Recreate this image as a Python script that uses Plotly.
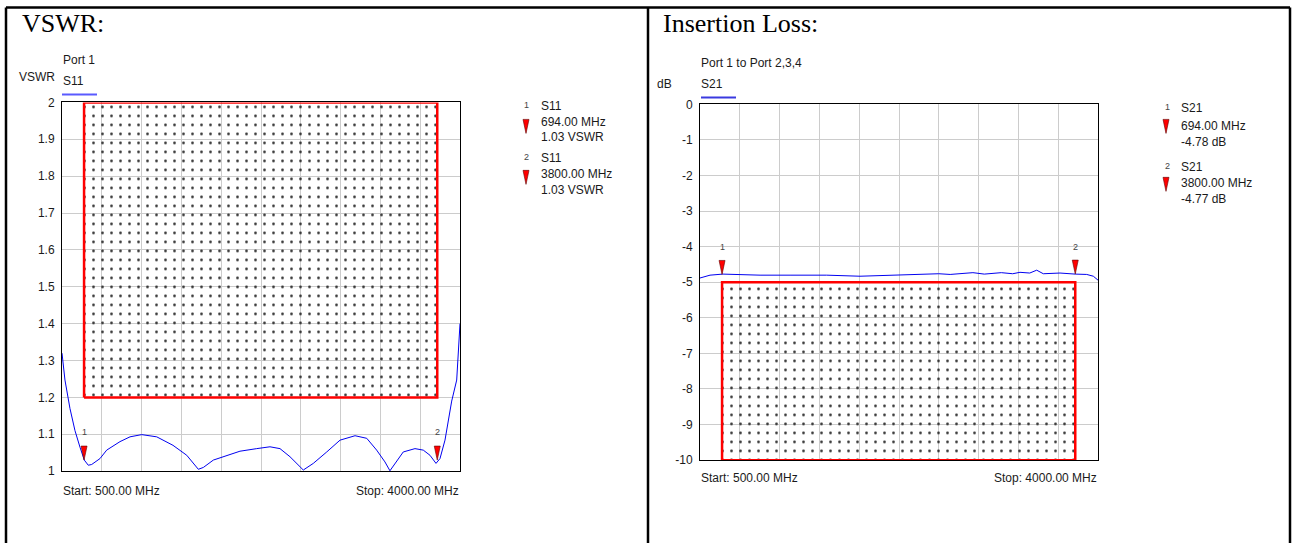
import plotly.graph_objects as go

W, H = 1292, 543

# ---------------- data ----------------
freq_start, freq_stop = 500, 4000
freq_grid = [500, 850, 1200, 1550, 1900, 2250, 2600, 2950, 3300, 3650, 4000]

vswr_freq = [500, 526, 570, 614, 658, 696, 731, 761, 834, 893, 1010, 1098, 1201, 1333,
             1476, 1597, 1699, 1743, 1831, 1948, 2065, 2212, 2329, 2417, 2505, 2622,
             2710, 2828, 2945, 3077, 3180, 3267, 3340, 3384, 3428, 3501, 3604, 3677,
             3736, 3789, 3824, 3868, 3927, 3971, 4000]
vswr_vals = [1.32, 1.247, 1.17, 1.11, 1.065, 1.03, 1.016, 1.018, 1.034, 1.057, 1.08, 1.093,
             1.099, 1.093, 1.07, 1.043, 1.005, 1.01, 1.03, 1.043, 1.054, 1.061, 1.066,
             1.061, 1.039, 1.003, 1.021, 1.052, 1.084, 1.096, 1.089, 1.057, 1.025, 1.001,
             1.021, 1.052, 1.061, 1.057, 1.043, 1.021, 1.034, 1.084, 1.19, 1.247, 1.40]

il_freq = [500, 588, 700, 850, 1028, 1300, 1614, 1907, 2197, 2494, 2600, 2700, 2786, 2900,
           3000, 3079, 3150, 3250, 3314, 3400, 3461, 3519, 3600, 3666, 3800, 3901, 3959, 4000]
il_vals = [-4.88, -4.80, -4.77, -4.79, -4.80, -4.80, -4.80, -4.83, -4.80, -4.78, -4.76,
           -4.78, -4.75, -4.73, -4.77, -4.74, -4.73, -4.76, -4.72, -4.74, -4.66, -4.76,
           -4.75, -4.74, -4.77, -4.78, -4.83, -4.94]

vswr_mk_freq = [694, 3800]
vswr_mk_vals = [1.03, 1.03]
il_mk_freq = [694, 3800]
il_mk_vals = [-4.78, -4.77]

band_lo, band_hi = 694, 3800
vswr_limit, vswr_top = 1.2, 2.0
il_limit, il_bottom = -5.0, -10.0

vswr_ticks = [1, 1.1, 1.2, 1.3, 1.4, 1.5, 1.6, 1.7, 1.8, 1.9, 2]
vswr_ticktext = ["1", "1.1", "1.2", "1.3", "1.4", "1.5", "1.6", "1.7", "1.8", "1.9", "2"]
il_ticks = [0, -1, -2, -3, -4, -5, -6, -7, -8, -9, -10]
il_ticktext = ["0", "-1", "-2", "-3", "-4", "-5", "-6", "-7", "-8", "-9", "-10"]

# ---------------- helpers ----------------
def px(x):
    return x / W


def py(y):
    yf = max((y - 6.5) / 0.975, 0.5)
    return 1 - yf / H


BLUE = "#0000f0"
RED = "#ff0000"
TXT = "#1a1a1a"
SANS = "Liberation Sans, Arial, sans-serif"
SERIF = "Liberation Serif, Times New Roman, serif"

fig = go.Figure()

pattern = dict(shape=".", size=9, solidity=0.07, fgcolor="#222222",
               bgcolor="rgba(0,0,0,0)", fillmode="replace")

# --- VSWR limit box ---
fig.add_trace(go.Scatter(
    x=[band_lo, band_hi, band_hi, band_lo, band_lo],
    y=[vswr_limit, vswr_limit, vswr_top, vswr_top, vswr_limit],
    fill="toself", fillcolor="rgba(0,0,0,0)", fillpattern=pattern,
    mode="lines", line=dict(color=RED, width=2.5),
    xaxis="x", yaxis="y", hoverinfo="skip", showlegend=False))

fig.add_trace(go.Scatter(
    x=vswr_freq, y=vswr_vals, mode="lines", line=dict(color=BLUE, width=1),
    xaxis="x", yaxis="y", showlegend=False))

# --- IL limit box ---
fig.add_trace(go.Scatter(
    x=[band_lo, band_hi, band_hi, band_lo, band_lo],
    y=[il_bottom, il_bottom, il_limit, il_limit, il_bottom],
    fill="toself", fillcolor="rgba(0,0,0,0)", fillpattern=pattern,
    mode="lines", line=dict(color=RED, width=2.5),
    xaxis="x2", yaxis="y2", hoverinfo="skip", showlegend=False))

fig.add_trace(go.Scatter(
    x=il_freq, y=il_vals, mode="lines", line=dict(color=BLUE, width=1),
    xaxis="x2", yaxis="y2", showlegend=False))

shapes = []
annotations = []

TRI = "M -3,14 L 3,14 L 0,0 Z"          # tip at anchor, pointing down
LEG_TRI = "M -3,7 L 3,7 L 0,-7 Z"       # centred, pointing down

# markers on curves
for i, (f, v) in enumerate(zip(vswr_mk_freq, vswr_mk_vals)):
    shapes.append(dict(type="path", xref="x", yref="y", xsizemode="pixel", ysizemode="pixel",
                       xanchor=f, yanchor=v, path=TRI, fillcolor=RED,
                       line=dict(color="#600000", width=0.6), layer="above"))
    annotations.append(dict(x=f, y=v, xref="x", yref="y", text=str(i + 1), showarrow=False,
                            yshift=28, font=dict(family=SANS, size=9, color="#444")))
for i, (f, v) in enumerate(zip(il_mk_freq, il_mk_vals)):
    shapes.append(dict(type="path", xref="x2", yref="y2", xsizemode="pixel", ysizemode="pixel",
                       xanchor=f, yanchor=v, path=TRI, fillcolor=RED,
                       line=dict(color="#600000", width=0.6), layer="above"))
    annotations.append(dict(x=f, y=v, xref="x2", yref="y2", text=str(i + 1), showarrow=False,
                            yshift=27, font=dict(family=SANS, size=9, color="#444")))


def text(x, y, s, size=12, anchor="left", family=SANS, color=TXT):
    annotations.append(dict(x=px(x), y=py(y), xref="paper", yref="paper", text=s,
                            showarrow=False, xanchor=anchor, yanchor="middle",
                            font=dict(family=family, size=size, color=color)))


# titles
text(20, 23, "VSWR:", size=26, family=SERIF, color="#000")
text(661, 23, "Insertion Loss:", size=26, family=SERIF, color="#000")

# small headers
text(61, 60, "Port 1")
text(17, 77, "VSWR")
text(61, 81, "S11")
text(699, 63, "Port 1 to Port 2,3,4")
text(655, 84, "dB")
text(699, 84, "S21")

shapes.append(dict(type="line", xref="paper", yref="paper", x0=px(62), x1=px(97),
                   y0=py(94), y1=py(94), line=dict(color="#5a5aff", width=2)))
shapes.append(dict(type="line", xref="paper", yref="paper", x0=px(701), x1=px(736),
                   y0=py(97), y1=py(97), line=dict(color="#3a3ae0", width=2)))

# start/stop
text(61, 491, f"Start: {freq_start:.2f} MHz")
text(461, 491, f"Stop: {freq_stop:.2f} MHz", anchor="right")
text(699, 478, f"Start: {freq_start:.2f} MHz")
text(1099, 478, f"Stop: {freq_stop:.2f} MHz", anchor="right")

# marker readouts
left_rows = [(106, 122, 137, 126), (158, 174, 190, 177)]
for i, (f, v) in enumerate(zip(vswr_mk_freq, vswr_mk_vals)):
    r = left_rows[i]
    text(522, r[0] - 1, str(i + 1), size=9, color="#444")
    text(539, r[0], "S11")
    text(539, r[1], f"{f:.2f} MHz")
    text(539, r[2], f"{v:.2f} VSWR")
    shapes.append(dict(type="path", xref="paper", yref="paper", xsizemode="pixel",
                       ysizemode="pixel", xanchor=px(526), yanchor=py(r[3]), path=LEG_TRI,
                       fillcolor=RED, line=dict(color="#600000", width=0.6)))

right_rows = [(108, 126, 142, 126), (167, 183, 199, 184)]
for i, (f, v) in enumerate(zip(il_mk_freq, il_mk_vals)):
    r = right_rows[i]
    text(1163, r[0] - 1, str(i + 1), size=9, color="#444")
    text(1179, r[0], "S21")
    text(1179, r[1], f"{f:.2f} MHz")
    text(1179, r[2], f"{v:.2f} dB")
    shapes.append(dict(type="path", xref="paper", yref="paper", xsizemode="pixel",
                       ysizemode="pixel", xanchor=px(1166), yanchor=py(r[3]), path=LEG_TRI,
                       fillcolor=RED, line=dict(color="#600000", width=0.6)))

# outer frame
frame = dict(color="#000", width=2.5)
for (x0, y0, x1, y1) in [(6, 6, 1290, 6), (6, 6, 6, 560), (648, 6, 648, 560), (1290, 6, 1290, 560)]:
    shapes.append(dict(type="line", xref="paper", yref="paper", x0=px(x0), x1=px(x1),
                       y0=py(y0), y1=py(y1), line=frame))

xa = dict(range=[freq_start, freq_stop], tickvals=freq_grid, showticklabels=False,
          showgrid=True, gridcolor="#cccccc", gridwidth=1, zeroline=False,
          showline=True, mirror=True, linecolor="#000", linewidth=1, ticks="")
ya_common = dict(showgrid=True, gridcolor="#cccccc", gridwidth=1, zeroline=False,
                 showline=True, mirror=True, linecolor="#000", linewidth=1, ticks="",
                 tickfont=dict(family=SANS, size=12, color=TXT), ticklabelstandoff=4)

fig.update_layout(
    width=W, height=H,
    margin=dict(l=0, r=0, t=0, b=0),
    paper_bgcolor="white", plot_bgcolor="white",
    showlegend=False,
    xaxis=dict(xa, domain=[px(62), px(460)], anchor="y"),
    yaxis=dict(ya_common, domain=[py(471), py(102)], range=[1, 2], tickvals=vswr_ticks,
               ticktext=vswr_ticktext, anchor="x"),
    xaxis2=dict(xa, domain=[px(700), px(1098)], anchor="y2"),
    yaxis2=dict(ya_common, domain=[py(460), py(104)], range=[-10, 0], tickvals=il_ticks,
                ticktext=il_ticktext, anchor="x2"),
    shapes=shapes,
    annotations=annotations,
)

fig.write_html(
    "out.html",
    config={"displayModeBar": False},
    post_script="document.body.style.margin='0';document.body.style.overflow='hidden';",
)
